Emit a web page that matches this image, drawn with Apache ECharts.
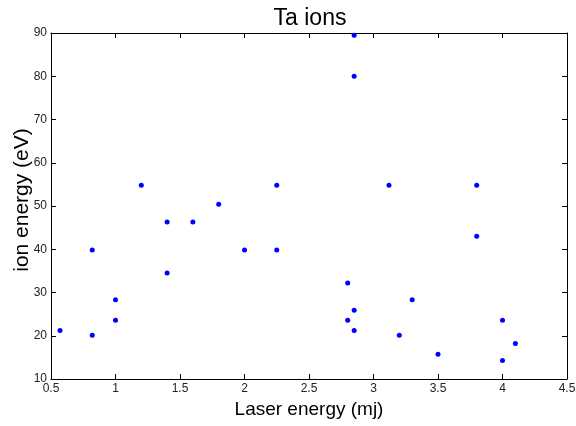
<!DOCTYPE html>
<html><head><meta charset="utf-8">
<script src="https://cdn.jsdelivr.net/npm/echarts@6/dist/echarts.min.js"></script>
<style>html,body{margin:0;padding:0;background:#fff}#c{width:576px;height:426px}</style>
</head><body><div id="c"></div>
<script>
var laserEnergy = [0.57, 0.82, 0.82, 1.0, 1.0, 1.2, 1.4, 1.4, 1.6, 1.8, 2.0, 2.25, 2.25, 2.8, 2.8, 2.85, 2.85, 2.85, 2.85, 3.12, 3.2, 3.3, 3.5, 3.8, 3.8, 4.0, 4.0, 4.1];
var ionEnergy   = [21.2, 20.1, 39.8, 23.6, 28.3, 54.8, 34.5, 46.3, 46.3, 50.4, 39.8, 54.8, 39.8, 32.2, 23.6, 25.9, 21.2, 89.5, 80.0, 54.8, 20.1, 28.3, 15.7, 54.8, 43.0, 23.6, 14.3, 18.2];
var xTicks = [0.5, 1, 1.5, 2, 2.5, 3, 3.5, 4, 4.5];
var yTicks = [10, 20, 30, 40, 50, 60, 70, 80, 90];

var pts = laserEnergy.map(function(x, i){ return [x, ionEnergy[i]]; });
var font = 'Liberation Sans, Arial, Helvetica, sans-serif';
var lineStyle = {color:'#000', width:1};
function axisCommon(extra){
  var o = {
    axisLine:{show:true, onZero:false, lineStyle:lineStyle},
    axisTick:{show:true, inside:true, length:5, lineStyle:lineStyle},
    splitLine:{show:false},
    axisLabel:{color:'#222', fontSize:12, fontFamily:font}
  };
  for (var k in extra) o[k] = extra[k];
  return o;
}
var chart = echarts.init(document.getElementById('c'), null, {renderer:'canvas'});
chart.setOption({
  animation:false,
  backgroundColor:'#fff',
  title:{text:'Ta ions', left:305, top:2, textAlign:'center',
    textStyle:{fontFamily:font, fontSize:23, fontWeight:'normal', color:'#000'}},
  grid:{left:51, right:9, top:33, bottom:47, containLabel:false, outerBoundsMode:'none'},
  xAxis:[
    axisCommon({type:'value', min:xTicks[0], max:xTicks[xTicks.length-1], interval:0.5, position:'bottom',
      name:'Laser energy (mj)', nameLocation:'middle', nameGap:21, nameMoveOverlap:false,
      nameTextStyle:{fontFamily:font, fontSize:19, color:'#000'},
      axisLabel:{color:'#222', fontSize:12, fontFamily:font, margin:4}}),
    axisCommon({type:'value', min:xTicks[0], max:xTicks[xTicks.length-1], interval:0.5, position:'top',
      axisLabel:{show:false}})
  ],
  yAxis:[
    axisCommon({type:'value', min:yTicks[0], max:yTicks[yTicks.length-1], interval:10, position:'left',
      name:'ion energy (eV)', nameLocation:'middle', nameGap:18, nameRotate:90, nameMoveOverlap:false,
      nameTextStyle:{fontFamily:font, fontSize:21, color:'#000', padding:[0,0,0,12]},
      axisLabel:{color:'#222', fontSize:12, fontFamily:font, margin:4}}),
    axisCommon({type:'value', min:yTicks[0], max:yTicks[yTicks.length-1], interval:10, position:'right',
      axisLabel:{show:false}})
  ],
  series:[{
    type:'scatter', xAxisIndex:0, yAxisIndex:0, data:pts,
    symbol:'circle', symbolSize:5, itemStyle:{color:'#0000ff', opacity:1}
  }]
});
</script></body></html>
